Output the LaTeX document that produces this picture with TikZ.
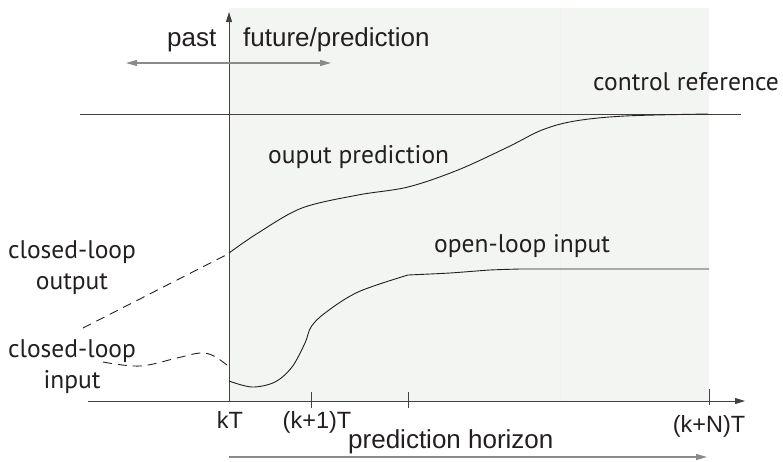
\documentclass[tikz,border=0pt]{standalone}
\usepackage{fontspec}
\setmainfont{PT Sans}
\newfontfamily\arialfont{Liberation Sans}
\usetikzlibrary{arrows.meta}
\definecolor{shadebg}{HTML}{F3F5F3}
\definecolor{ink}{HTML}{231F20}
\definecolor{axisgray}{HTML}{8A8A8A}
\begin{document}
\begin{tikzpicture}[x=1pt,y=-1pt,
  mlbl/.style={font=\fontsize{25.5}{30}\selectfont, text=ink, inner sep=0pt, anchor=base west},
  albl/.style={font=\arialfont\fontsize{26}{30}\selectfont, text=ink, inner sep=0pt, anchor=base west},
  tlbl/.style={font=\arialfont\fontsize{23.5}{28}\selectfont, text=ink, inner sep=0pt, anchor=base},
  curve/.style={draw=ink, line width=0.9pt},
  dashcurve/.style={curve, dash pattern=on 9pt off 6pt},
  axisline/.style={draw=ink!85, line width=0.9pt},
  graytip/.style={-{Triangle[length=11pt,width=6pt]}},
  bothtip/.style={{Triangle[length=11pt,width=6pt]}-{Triangle[length=11pt,width=6pt]}}]
\useasboundingbox (0,0) rectangle (783,461);
% shaded future region
\fill[shadebg] (229,8) rectangle (709,401);
\draw[black!6, line width=0.5pt] (560,8) -- (560,401);
% coordinates
\coordinate (o) at (229,401);
\coordinate (ytop) at (229,12);
\coordinate (xend) at (745,401);
\coordinate (xstart) at (88,401);
\coordinate (refL) at (80,114);
\coordinate (refR) at (741,114);
\coordinate (pfL) at (126,63);
\coordinate (pfR) at (331,63);
\coordinate (phL) at (229,457);
\coordinate (phR) at (707,457);
% axes
\draw[axisline, -{Triangle[length=10pt,width=6pt]}] (xstart) -- (xend);
\draw[axisline, -{Triangle[length=10pt,width=6pt]}] (o) -- (ytop);
% ticks
\draw[axisline] (311,392) -- (311,408);
\draw[axisline] (408,392) -- (408,408);
\draw[axisline] (709,389) -- (709,405);
% reference line
\draw[axisline] (refL) -- (refR);
% past/future arrow
\draw[draw=axisgray, line width=1.2pt, bothtip] (pfL) -- (pfR);
% prediction horizon arrow
\draw[draw=axisgray, line width=1.2pt, graytip] (phL) -- (phR);
% output prediction
\draw[curve] plot[smooth, tension=0.55] coordinates {(229,253) (258,233) (302,208) (358,195) (408,187) (458,170) (508,147) (542,130) (575,121) (625,116) (708,114)};
\draw[dashcurve] (83,328) -- (226,255);
% input
\draw[curve] plot[smooth, tension=0.55] coordinates {(229,381) (252,387) (275,382) (292,367) (305,343) (311,327) (325,313) (358,292) (408,275)};
\draw[curve] plot[smooth, tension=0.4] coordinates {(408,275) (450,273) (490,270) (520,269)} -- (709,269);
\draw[dashcurve] plot[smooth, tension=0.6] coordinates {(103,362) (140,366) (177,358) (200,353) (214,356) (228,366)};
% labels
\node[albl] (past) at (167,46) {past};
\node[albl] (fut) at (243,46) {future/prediction};
\node[mlbl] (cref) at (593,90) {control reference};
\node[mlbl] (outp) at (268,163) {ouput prediction};
\node[mlbl] (olin) at (434,252) {open-loop input};
\node[mlbl, anchor=base] (clo1) at (72,258) {closed-loop};
\node[mlbl, anchor=base] (clo2) at (72,289) {output};
\node[mlbl, anchor=base] (cli1) at (72,357) {closed-loop};
\node[mlbl, anchor=base] (cli2) at (72,388) {input};
\node[tlbl] (kT) at (230,428) {kT};
\node[tlbl] (k1T) at (317,428) {(k+1)T};
\node[tlbl] (kNT) at (709,432) {(k+N)T};
\node[albl] (ph) at (348,448) {prediction horizon};
\end{tikzpicture}
\end{document}
